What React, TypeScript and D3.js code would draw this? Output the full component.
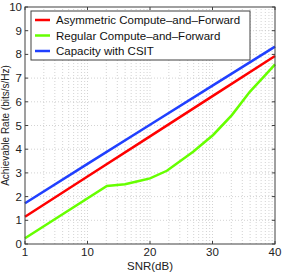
import { scaleLog, scaleLinear, line as d3Line } from "d3";

// SNR in dB (x positions), values in bits/s/Hz
const snrDb = [0, 10, 20, 30, 40];
const asymmetric = [1.15, 2.85, 4.54, 6.24, 7.93];
const capacity = [1.72, 3.38, 5.03, 6.68, 8.33];

const regularDb = [0, 13.1, 16, 18.4, 20, 22.7, 26.9, 30.1, 33.1, 36, 38.7, 40];
const regular = [0.24, 2.45, 2.52, 2.67, 2.77, 3.09, 3.89, 4.6, 5.44, 6.43, 7.2, 7.58];

const xTickValues = [1, 10, 100, 1000, 10000];
const xTickLabels = ["1", "10", "20", "30", "40"];
const yTicks = [0, 1, 2, 3, 4, 5, 6, 7, 8, 9, 10];

const seriesNames = ["Asymmetric Compute\u2013and\u2013Forward", "Regular Compute\u2013and\u2013Forward", "Capacity with CSIT"];
const colors = ["#ff0000", "#66ff00", "#2040ff"];

const W = 282;
const H = 275;
const M = { top: 7, right: 7, bottom: 31, left: 25 };

const App = () => {
  const x = scaleLog().domain([1, 10000]).range([M.left, W - M.right]);
  const y = scaleLinear().domain([0, 10]).range([H - M.bottom, M.top]);
  const fromDb = (d: number) => Math.pow(10, d / 10);

  const line = d3Line<[number, number]>()
    .x((d) => x(fromDb(d[0])))
    .y((d) => y(d[1]));

  const series = [
    snrDb.map((d, i) => [d, asymmetric[i]] as [number, number]),
    regularDb.map((d, i) => [d, regular[i]] as [number, number]),
    snrDb.map((d, i) => [d, capacity[i]] as [number, number]),
  ];

  // minor log gridlines
  const minor: number[] = [];
  for (let dec = 1; dec < 10000; dec *= 10) {
    for (let k = 2; k <= 9; k++) minor.push(dec * k);
  }

  const x0 = M.left;
  const x1 = W - M.right;
  const y0 = H - M.bottom;
  const y1 = M.top;
  const font = "'Liberation Sans', Arial, sans-serif";
  const axisColor = "#404040";

  return (
    <svg width={W} height={H} style={{ position: "absolute", left: 0, top: 0 }} fontFamily={font}>
      <rect x={0} y={0} width={W} height={H} fill="white" />
      {/* grid */}
      <g stroke="#c8c8c8" strokeWidth={0.8} strokeDasharray="1,2">
        {minor.concat(xTickValues.slice(1, -1)).map((v, i) => (
          <line key={"gx" + i} x1={x(v)} x2={x(v)} y1={y0} y2={y1} />
        ))}
        {yTicks.slice(1, -1).map((v) => (
          <line key={"gy" + v} x1={x0} x2={x1} y1={y(v)} y2={y(v)} />
        ))}
      </g>
      {/* lines */}
      {series.map((s, i) => (
        <path key={i} d={line(s) || ""} fill="none" stroke={colors[i]} strokeWidth={2.5} />
      ))}
      {/* axes box */}
      <rect x={x0} y={y1} width={x1 - x0} height={y0 - y1} fill="none" stroke={axisColor} strokeWidth={1} />
      <g stroke={axisColor} strokeWidth={1}>
        {yTicks.map((v) => (
          <g key={"ty" + v}>
            <line x1={x0} x2={x0 + 3} y1={y(v)} y2={y(v)} />
            <line x1={x1} x2={x1 - 3} y1={y(v)} y2={y(v)} />
          </g>
        ))}
        {xTickValues.map((v) => (
          <g key={"tx" + v}>
            <line x1={x(v)} x2={x(v)} y1={y0} y2={y0 - 3} />
            <line x1={x(v)} x2={x(v)} y1={y1} y2={y1 + 3} />
          </g>
        ))}
      </g>
      <g fontSize={11.5} fill="#222">
        {yTicks.map((v) => (
          <text key={"ly" + v} x={x0 - 3} y={y(v)} textAnchor="end" dominantBaseline="central">
            {v}
          </text>
        ))}
        {xTickValues.map((v, i) => (
          <text key={"lx" + v} x={x(v)} y={y0 + 12} textAnchor="middle">
            {xTickLabels[i]}
          </text>
        ))}
      </g>
      <text x={(x0 + x1) / 2} y={H - 5} textAnchor="middle" fontSize={11.5} fill="#222">
        SNR(dB)
      </text>
      <text
        transform={`translate(9, ${(y0 + y1) / 2}) rotate(-90)`}
        textAnchor="middle"
        fontSize={10}
        fill="#222"
      >
        Achievable Rate (bits/s/Hz)
      </text>
      {/* legend */}
      <rect x={31} y={11} width={219} height={49} fill="white" stroke={axisColor} strokeWidth={1} />
      {seriesNames.map((name, i) => (
        <g key={"lg" + i} transform={`translate(0, ${20 + i * 15.5})`}>
          <line x1={35} x2={50} y1={0} y2={0} stroke={colors[i]} strokeWidth={2.5} />
          <text x={56} y={0} dominantBaseline="central" fontSize={11.5} fill="#111">
            {name}
          </text>
        </g>
      ))}
    </svg>
  );
};

export default App;
